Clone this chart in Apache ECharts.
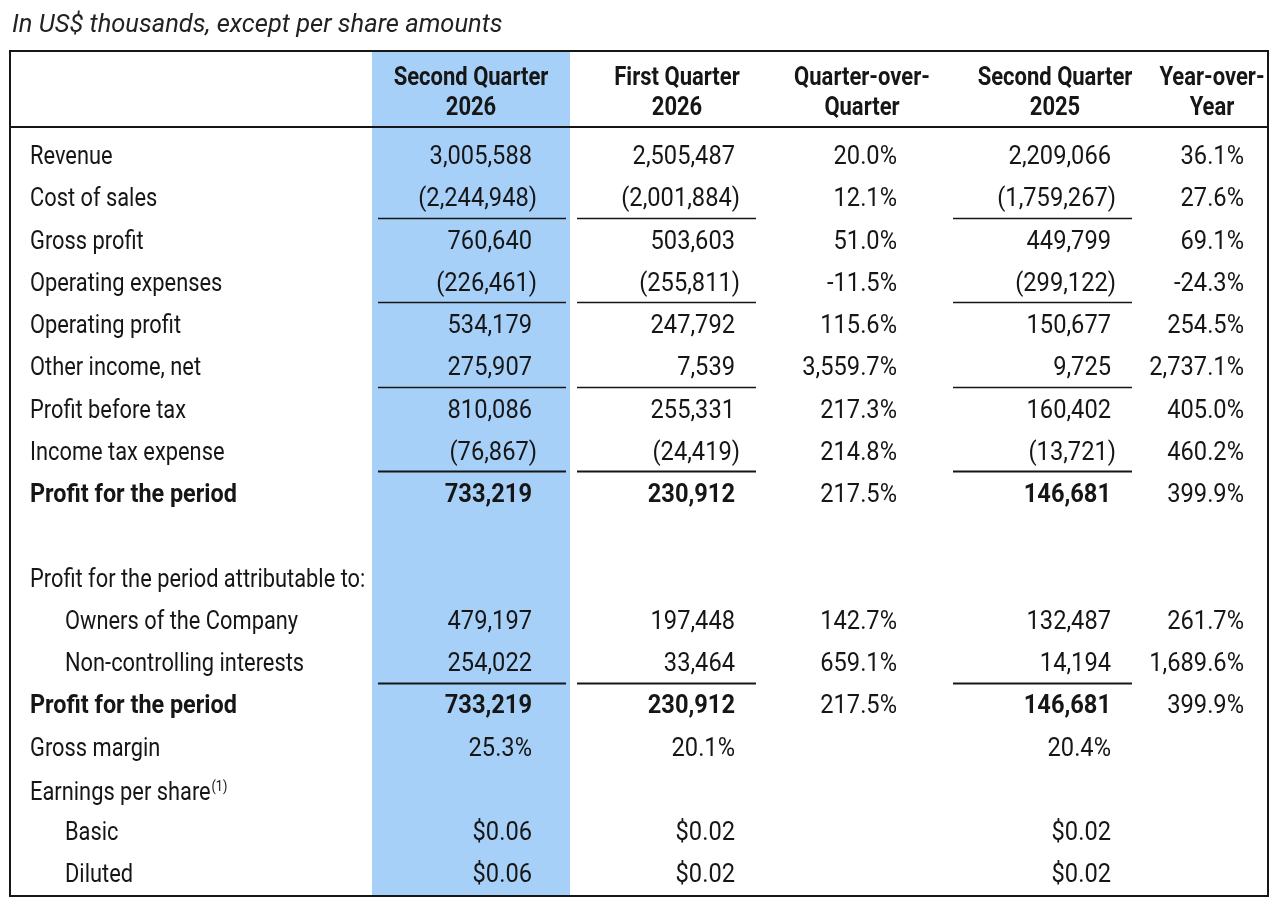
<!DOCTYPE html>
<html>
<head>
<meta charset="utf-8">
<title>Quarterly results</title>
<script src="https://cdn.jsdelivr.net/npm/echarts@6/dist/echarts.min.js"></script>
<style>
html, body { margin: 0; padding: 0; background: #fff; }
#main { width: 1280px; height: 910px; }
</style>
</head>
<body>
<div id="main"></div>
<script>
// ---- 表格数据 ----
var titleText = 'In US$ thousands, except per share amounts';

var rowLabels = [
  'Revenue', 'Cost of sales', 'Gross profit', 'Operating expenses', 'Operating profit',
  'Other income, net', 'Profit before tax', 'Income tax expense', 'Profit for the period',
  '', 'Profit for the period attributable to:', 'Owners of the Company', 'Non-controlling interests',
  'Profit for the period', 'Gross margin', 'Earnings per share', 'Basic', 'Diluted'
];
// 每行数字的格式: amt 千元, pct 百分比, eps 每股
var rowKinds = ['amt', 'amt', 'amt', 'amt', 'amt', 'amt', 'amt', 'amt', 'amt',
  'amt', 'amt', 'amt', 'amt', 'amt', 'pct', 'amt', 'eps', 'eps'];
var indentRows = [11, 12, 16, 17];
var boldRows = [8, 13];
var thinRuleRows = [1, 3, 5];
var thickRuleRows = [7, 12];
var footnoteRow = 15;
var footnoteMark = '(1)';

var columnHeaders = ['Second Quarter\n2026', 'First Quarter\n2026', 'Quarter-over-\nQuarter', 'Second Quarter\n2025', 'Year-over-\nYear'];

var q2_2026 = [3005588, -2244948, 760640, -226461, 534179, 275907, 810086, -76867, 733219,
  null, null, 479197, 254022, 733219, 25.3, null, 0.06, 0.06];
var q1_2026 = [2505487, -2001884, 503603, -255811, 247792, 7539, 255331, -24419, 230912,
  null, null, 197448, 33464, 230912, 20.1, null, 0.02, 0.02];
var qoqPct = [20.0, 12.1, 51.0, -11.5, 115.6, 3559.7, 217.3, 214.8, 217.5,
  null, null, 142.7, 659.1, 217.5, null, null, null, null];
var q2_2025 = [2209066, -1759267, 449799, -299122, 150677, 9725, 160402, -13721, 146681,
  null, null, 132487, 14194, 146681, 20.4, null, 0.02, 0.02];
var yoyPct = [36.1, 27.6, 69.1, -24.3, 254.5, 2737.1, 405.0, 460.2, 399.9,
  null, null, 261.7, 1689.6, 399.9, null, null, null, null];

// ---- 版式 ----
var FONT = 'Roboto, "Noto Sans", sans-serif';
var INK = '#161616';
var BLUE = '#a7d0f9';
var BODY_SIZE = 26;
var HEAD_SIZE = 25;
// 参考图的字体是窄体,这里用 Roboto 横向压一下
var LABEL_SQUEEZE = 0.84;
var BOLD_LABEL_SQUEEZE = 0.9;
var NUM_SQUEEZE = 0.91;
var HEAD_SQUEEZE = 0.88;
var GRID_TOP = 51, GRID_BOTTOM = 14;
var TABLE = { left: 10, top: 51, right: 1268, bottom: 896, headRule: 127 };
var HANG = 5; // 括号往右多出来的宽度

var labelCol = { left: 12, width: 360, textX: 18, indent: 35 };
// pad: 数字右边到格子右边的距离, rule: 下划线左右缩进
var dataCols = [
  { left: 372, width: 198, pad: 38, rule: [6, 4], values: q2_2026, byRow: true, highlight: true },
  { left: 577, width: 200, pad: 42, rule: [0, 21], values: q1_2026, byRow: true },
  { left: 782, width: 160, pad: 45, rule: null, values: qoqPct, byRow: false },
  { left: 945, width: 220, pad: 54, rule: [8, 33], values: q2_2025, byRow: true },
  { left: 1157, width: 110, pad: 23, rule: null, values: yoyPct, byRow: false }
];

var yCats = ['hdr1', 'hdr2'].concat(rowLabels.map(function (l, i) { return 'r' + i; }));

function fmtAmount(v) {
  var s = Math.abs(v).toLocaleString('en-US');
  return v < 0 ? '(' + s + ')' : s;
}
function fmtPct(v) {
  return v.toLocaleString('en-US', { minimumFractionDigits: 1, maximumFractionDigits: 1 }) + '%';
}
function fmtEps(v) {
  return '$' + v.toFixed(2);
}
function fmtCell(v, kind) {
  if (kind === 'pct') return fmtPct(v);
  if (kind === 'eps') return fmtEps(v);
  return fmtAmount(v);
}

function textEl(x, y, text, align, weight, size, squeeze) {
  return {
    type: 'text',
    x: x,
    y: y,
    scaleX: squeeze,
    style: {
      text: text,
      fill: INK,
      fontFamily: FONT,
      fontSize: size || BODY_SIZE,
      fontWeight: weight || 'normal',
      align: align, textAlign: align,
      verticalAlign: 'middle', textVerticalAlign: 'middle'
    }
  };
}

// 左边的行名
function renderLabel(params, api) {
  var row = api.value(1) - 2;
  var p = api.coord([0, api.value(1)]);
  var x = p[0] + labelCol.textX + (indentRows.indexOf(row) >= 0 ? labelCol.indent : 0);
  var y = p[1] + 1;
  var isBold = boldRows.indexOf(row) >= 0;
  if (row === footnoteRow) {
    return {
      type: 'text', x: x, y: y, scaleX: LABEL_SQUEEZE,
      style: {
        text: '{m|' + rowLabels[row] + '}{s|' + footnoteMark + '}',
        fill: INK, align: 'left', textAlign: 'left',
        verticalAlign: 'middle', textVerticalAlign: 'middle',
        rich: {
          m: { fontFamily: FONT, fontSize: BODY_SIZE, fill: INK, color: INK, lineHeight: 30, verticalAlign: 'bottom' },
          s: { fontFamily: FONT, fontSize: 15, fill: INK, color: INK, lineHeight: 30, verticalAlign: 'top', padding: [3, 0, 0, 1] }
        }
      }
    };
  }
  return textEl(x, y, rowLabels[row], 'left', isBold ? 'bold' : 'normal', BODY_SIZE,
    isBold ? BOLD_LABEL_SQUEEZE : LABEL_SQUEEZE);
}

// 数据列
function makeRenderer(col) {
  return function (params, api) {
    var pos = api.value(1);
    if (pos === 0) {
      // 表头,放在两个表头格子的中间
      var hp = api.coord([0.5, 0]);
      var band = api.size([0, 1])[1];
      var head = textEl(hp[0], hp[1] + band / 2, columnHeaders[dataCols.indexOf(col)], 'center', 'bold', HEAD_SIZE, HEAD_SQUEEZE);
      head.style.lineHeight = 30;
      return head;
    }
    var row = pos - 2;
    var v = col.values[row];
    var p = api.coord([1, pos]);
    var band2 = api.size([0, 1])[1];
    var children = [];
    if (v !== null && v !== undefined) {
      var kind = col.byRow ? rowKinds[row] : 'pct';
      var txt = fmtCell(v, kind);
      var x = p[0] - col.pad + (txt.charAt(0) === '(' ? HANG : 0);
      var bold = col.byRow && boldRows.indexOf(row) >= 0;
      children.push(textEl(x, p[1] + 1, txt, 'right', bold ? 'bold' : 'normal', BODY_SIZE, NUM_SQUEEZE));
    }
    if (col.rule) {
      var lw = thickRuleRows.indexOf(row) >= 0 ? 2 : (thinRuleRows.indexOf(row) >= 0 ? 1.3 : 0);
      if (lw) {
        var x0 = api.coord([0, pos])[0];
        var ry = Math.round(p[1] + band2 * 0.45) + 0.5;
        children.push({
          type: 'line',
          shape: { x1: x0 + col.rule[0], y1: ry, x2: p[0] - col.rule[1], y2: ry },
          style: { stroke: INK, lineWidth: lw }
        });
      }
    }
    return { type: 'group', children: children };
  };
}

var grids = [{ left: labelCol.left, width: labelCol.width, top: GRID_TOP, bottom: GRID_BOTTOM }];
dataCols.forEach(function (c) {
  grids.push({
    left: c.left, width: c.width, top: GRID_TOP, bottom: GRID_BOTTOM,
    show: !!c.highlight, backgroundColor: c.highlight ? BLUE : 'transparent', borderWidth: 0
  });
});

var xAxes = [], yAxes = [];
grids.forEach(function (g, i) {
  xAxes.push({ type: 'value', gridIndex: i, min: 0, max: 1, show: false });
  yAxes.push({ type: 'category', gridIndex: i, data: yCats, inverse: true, show: false });
});

var series = [{
  type: 'custom',
  xAxisIndex: 0, yAxisIndex: 0,
  renderItem: renderLabel,
  data: rowLabels.map(function (l, i) { return [0, i + 2]; }).filter(function (d) { return rowLabels[d[1] - 2] !== ''; }),
  silent: true
}];
dataCols.forEach(function (c, i) {
  series.push({
    type: 'custom',
    xAxisIndex: i + 1, yAxisIndex: i + 1,
    renderItem: makeRenderer(c),
    data: [[0.5, 0]].concat(rowLabels.map(function (l, r) { return [1, r + 2]; })),
    silent: true
  });
});

var chart = echarts.init(document.getElementById('main'));
chart.setOption({
  animation: false,
  backgroundColor: '#fff',
  title: {
    text: titleText, left: 12, top: 13, padding: 0,
    textStyle: { fontFamily: FONT, fontStyle: 'italic', fontWeight: 'normal', fontSize: 25.5, color: '#222' }
  },
  grid: grids,
  xAxis: xAxes,
  yAxis: yAxes,
  series: series,
  graphic: [
    {
      type: 'rect', z: 100, silent: true,
      shape: { x: TABLE.left, y: TABLE.top, width: TABLE.right - TABLE.left, height: TABLE.bottom - TABLE.top },
      style: { fill: 'none', stroke: INK, lineWidth: 2 }
    },
    {
      type: 'line', z: 100, silent: true,
      shape: { x1: TABLE.left, y1: TABLE.headRule, x2: TABLE.right, y2: TABLE.headRule },
      style: { stroke: INK, lineWidth: 2 }
    }
  ]
});
</script>
</body>
</html>
